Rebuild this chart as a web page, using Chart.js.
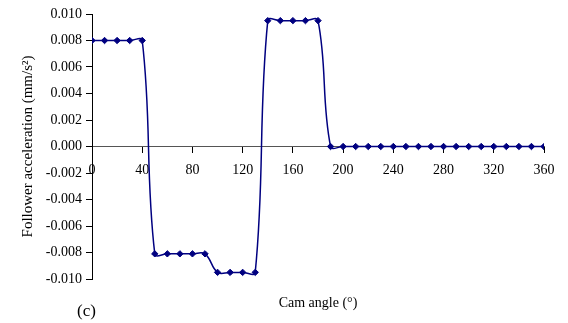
<!DOCTYPE html>
<html>
<head>
<meta charset="utf-8">
<script src="https://cdn.jsdelivr.net/npm/chart.js@4/dist/chart.umd.min.js"></script>
<style>
  html, body { margin: 0; padding: 0; background: #fff; }
  #wrap { position: relative; width: 568px; height: 323px; }
  #panel { position: absolute; left: 77px; top: 301px; font: 17px "Liberation Serif", "Times New Roman", serif; line-height: 20px; color: #000; }
</style>
</head>
<body>
<div id="wrap">
  <canvas id="c" width="568" height="323"></canvas>
  <div id="panel">(c)</div>
</div>
<script>
// Data
const camAngles = [0, 10, 20, 30, 40, 50, 60, 70, 80, 90, 100, 110, 120, 130, 140, 150, 160, 170, 180,
  190, 200, 210, 220, 230, 240, 250, 260, 270, 280, 290, 300, 310, 320, 330, 340, 350, 360];
const acceleration = [0.0080, 0.0080, 0.0080, 0.0080, 0.0080,
  -0.0081, -0.0081, -0.0081, -0.0081, -0.0081,
  -0.0095, -0.0095, -0.0095, -0.0095,
  0.0095, 0.0095, 0.0095, 0.0095, 0.0095,
  0, 0, 0, 0, 0, 0, 0, 0, 0, 0, 0, 0, 0, 0, 0, 0, 0, 0];
const xTickStep = 40;
const yTickStep = 0.002;
const xTitle = 'Cam angle (°)';
const yTitle = 'Follower acceleration (mm/s²)';

const points = camAngles.map((a, i) => ({ x: a, y: acceleration[i] }));
const serif = '"Liberation Serif", "Times New Roman", serif';

new Chart(document.getElementById('c'), {
  type: 'line',
  data: {
    datasets: [{
      data: points,
      xAxisID: 'x',
      yAxisID: 'y',
      borderColor: '#000080',
      backgroundColor: '#000080',
      borderWidth: 1.5,
      tension: 0.4,
      pointStyle: 'rectRot',
      pointRadius: 3.2,
      pointBackgroundColor: '#000080',
      pointBorderColor: '#000080',
      pointBorderWidth: 1,
      fill: false
    }]
  },
  options: {
    responsive: false,
    devicePixelRatio: 1,
    animation: false,
    layout: { padding: { top: 14, right: 24, bottom: 0, left: 0 } },
    plugins: { legend: { display: false }, tooltip: { enabled: false } },
    scales: {
      x: {
        type: 'linear',
        position: { y: 0 },
        min: 0, max: 360,
        afterFit: s => { s.height = 0; },
        ticks: { stepSize: xTickStep, color: '#000', font: { family: serif, size: 14 }, padding: 9, maxRotation: 0 },
        grid: { drawOnChartArea: false, drawTicks: true, tickLength: 6, color: '#000', tickWidth: 1 },
        border: { display: true, color: '#555', width: 1 }
      },
      x2: {
        type: 'linear',
        position: 'bottom',
        min: 0, max: 360,
        afterFit: s => { s.height = 44; },
        ticks: { display: false },
        grid: { display: false },
        border: { display: false },
        title: { display: true, text: xTitle, color: '#000', font: { family: serif, size: 14 }, padding: { top: 0, bottom: 11 } }
      },
      y: {
        type: 'linear',
        position: 'left',
        min: -0.010, max: 0.010,
        afterFit: s => { s.width = 92; },
        ticks: {
          stepSize: yTickStep, color: '#000', font: { family: serif, size: 14 }, padding: 4,
          callback: v => (Math.abs(v) < 1e-9 ? 0 : v).toFixed(3)
        },
        grid: { drawOnChartArea: false, drawTicks: true, tickLength: 6, color: '#000' },
        border: { display: true, color: '#000', width: 1 },
        title: { display: true, text: yTitle, color: '#000', font: { family: serif, size: 15 }, padding: { top: 19, bottom: 0 } }
      }
    }
  }
});
</script>
</body>
</html>
